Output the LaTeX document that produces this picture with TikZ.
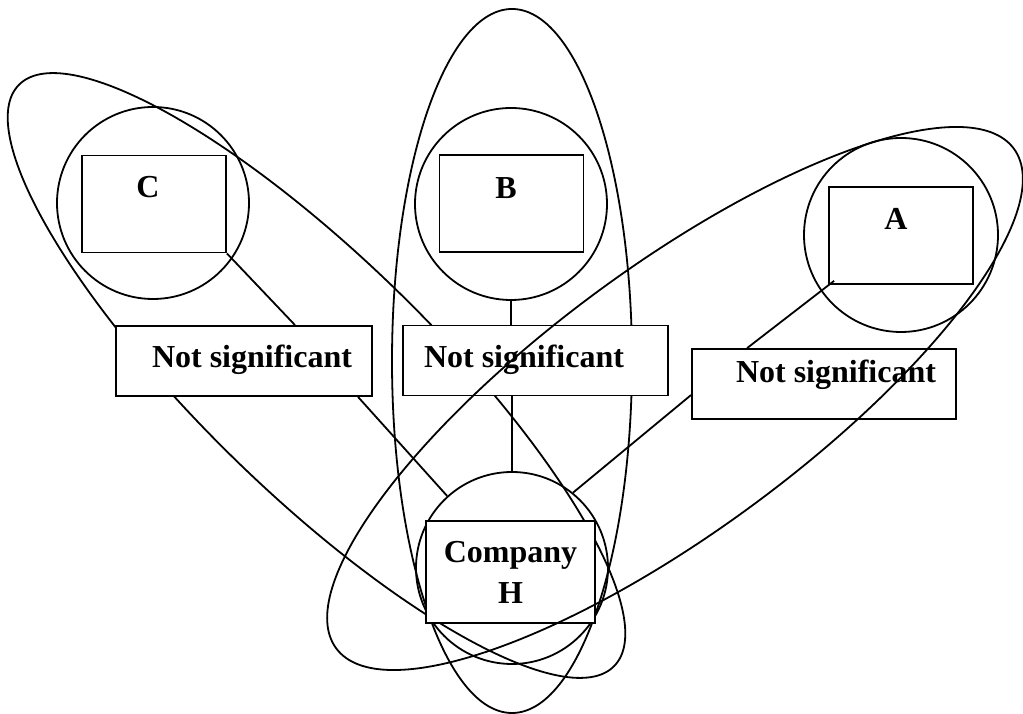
\documentclass[tikz,border=0pt]{standalone}
\usepackage{fontspec}
\setmainfont{Liberation Serif}
\usetikzlibrary{calc}

\begin{document}
\begin{tikzpicture}[x=1pt, y=1pt,
    ring/.style={circle, draw, line width=1.8pt, inner sep=0pt, minimum size=192pt},
    firm/.style={rectangle, draw, line width=1.8pt, fill=white, inner sep=0pt, minimum width=144pt, minimum height=97pt},
    verdict/.style={rectangle, draw, line width=1.8pt, fill=white, inner sep=0pt, minimum height=70pt},
    tag/.style={inner sep=0pt, anchor=base, font=\bfseries\fontsize{32}{41}\selectfont},
    link/.style={line width=1.8pt},
    loop/.style={line width=1.8pt}]
                \useasboundingbox (0,0) rectangle (1023,714);

                \draw[loop, rotate around={-44.3:(316.5,338.5)}] (316.5,338.5) ellipse [x radius=416, y radius=117];
                \draw[loop] (512,353) ellipse [x radius=120, y radius=352];

                \node[ring] (cC) at (153,511) {};
                \node[ring] (cB) at (511,510) {};
                \node[ring, minimum size=194pt] (cA) at (901,479) {};
                \node[ring] (cH) at (512,146) {};

                \node[firm] (fC) at (154,510) {};
                \node[firm] (fB) at (511.5,510.5) {};
                \node[firm] (fA) at (901,478.5) {};
                \node[firm, minimum width=169pt, minimum height=102pt, align=center, font=\bfseries\fontsize{32}{41}\selectfont] (fH) at (510.5,142) {Company\\H};
                \node[tag] (tC) at (148,516) {C};
                \node[tag] (tB) at (506,515) {B};
                \node[tag] (tA) at (896,484) {A};

                \node[verdict, minimum width=256pt] (v1) at (244,353) {};
                \node[verdict, minimum width=265pt] (v2) at (535.5,353.5) {};
                \node[verdict, minimum width=264pt] (v3) at (824,330) {};
                \node[tag] (t1) at (252,346) {Not significant};
                \node[tag] (t2) at (524,346) {Not significant};
                \node[tag] (t3) at (836,331) {Not significant};

                \draw[link] (fC.south east) -- ($(v1.north)+(51,0)$);
                \draw[link] ($(v1.south)+(114,0)$) -- (cH.132);
                \draw[link] (cB.south) -- (cB.south |- v2.north);
                \draw[link] (v2.south -| cH.north) -- (cH.north);
                \draw[link] ($(fA.south west)+(6,4)$) -- ($(v3.north west)+(56,0)$);
                \draw[link] ($(v3.west)+(0,-11)$) -- (cH.51);

                \draw[loop, rotate around={36.4:(675,315.5)}] (675,315.5) ellipse [x radius=421, y radius=132];
            \end{tikzpicture}
\end{document}
